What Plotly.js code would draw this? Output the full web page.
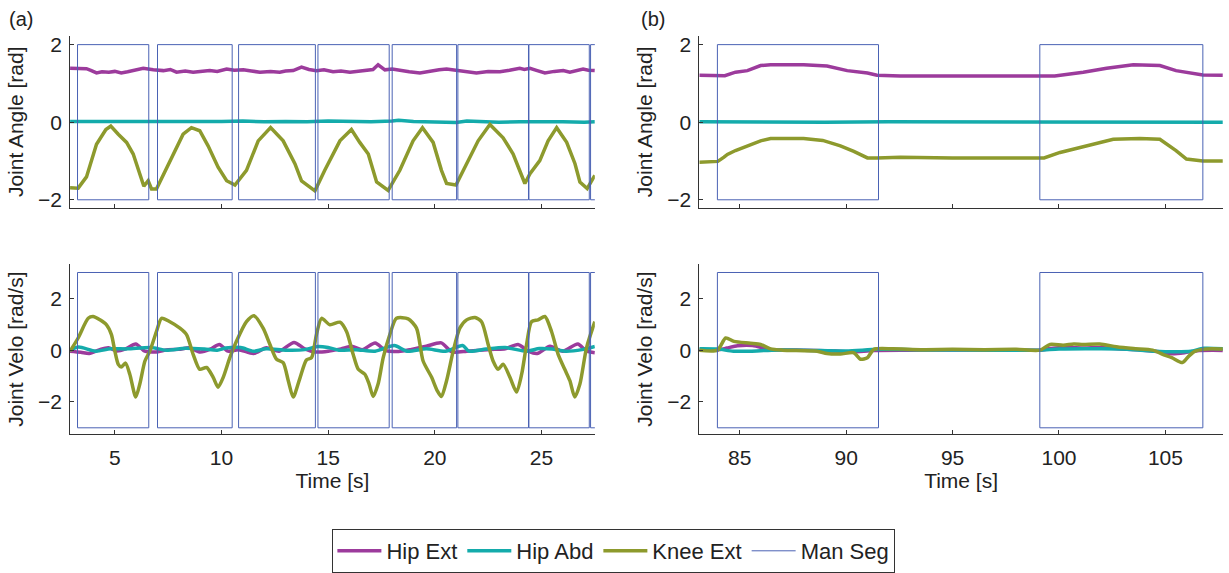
<!DOCTYPE html>
<html>
<head>
<meta charset="utf-8">
<script src="https://cdn.plot.ly/plotly-3.0.1.min.js"></script>
<style>html,body{margin:0;padding:0;background:#fff;}#chart{width:1229px;height:573px;}</style>
</head>
<body>
<div id="chart"></div>
<script>
// ---------- Panel (a): walking, time 2.9 - 27.5 s ----------
const tHipAngA = [2.9, 3.28, 3.67, 3.9, 4.14, 4.4, 4.72, 5.0, 5.3, 5.6, 5.86, 6.1, 6.33, 6.8, 7.27, 7.6, 7.89, 8.3, 8.67, 9.0, 9.45, 9.8, 10.24, 10.6, 11.02, 11.4, 11.8, 12.3, 12.73, 13.0, 13.36, 13.75, 14.1, 14.45, 14.8, 15.23, 15.6, 16.02, 16.4, 16.8, 17.1, 17.34, 17.66, 18.0, 18.36, 18.8, 19.3, 19.6, 19.92, 20.2, 20.55, 20.9, 21.17, 21.6, 21.95, 22.5, 23.05, 23.5, 23.98, 24.2, 24.46, 24.8, 25.16, 25.6, 26.02, 26.33, 26.65, 26.95, 27.2, 27.5];
const hipAngA  = [1.39, 1.38, 1.38, 1.33, 1.27, 1.30, 1.29, 1.31, 1.27, 1.30, 1.33, 1.36, 1.39, 1.35, 1.33, 1.36, 1.29, 1.32, 1.29, 1.31, 1.33, 1.31, 1.37, 1.34, 1.35, 1.32, 1.29, 1.31, 1.29, 1.32, 1.33, 1.42, 1.36, 1.33, 1.35, 1.30, 1.32, 1.29, 1.31, 1.33, 1.36, 1.48, 1.35, 1.37, 1.33, 1.30, 1.27, 1.30, 1.33, 1.35, 1.37, 1.34, 1.33, 1.30, 1.27, 1.31, 1.30, 1.34, 1.39, 1.36, 1.39, 1.33, 1.27, 1.31, 1.33, 1.29, 1.32, 1.37, 1.34, 1.33];

const tAbdAngA = [2.9, 4, 5, 6, 7, 8, 9, 10, 11, 12, 13, 14, 15, 16, 17, 18, 18.3, 19, 20, 21, 21.5, 22, 23, 24, 25, 26, 27, 27.5];
const abdAngA  = [0.02, 0.02, 0.01, 0.0, 0.01, 0.02, 0.01, 0.02, 0.03, 0.01, 0.02, 0.01, 0.03, 0.02, 0.01, 0.03, 0.05, 0.02, 0.01, -0.01, 0.03, 0.02, 0.0, 0.01, 0.02, 0.01, 0.0, 0.01];

const tKneeAngA = [2.9, 3.28, 3.67, 4.14, 4.58, 4.81, 5.16, 5.55, 5.86, 6.17, 6.36, 6.56, 6.72, 6.95, 7.19, 7.73, 8.20, 8.59, 8.98, 9.37, 9.84, 10.24, 10.63, 11.17, 11.72, 12.30, 12.89, 13.44, 13.75, 14.38, 14.84, 15.55, 16.09, 16.48, 16.88, 17.27, 17.81, 18.36, 18.98, 19.42, 19.92, 20.31, 20.55, 20.99, 21.41, 22.03, 22.58, 23.20, 23.67, 24.22, 24.46, 24.92, 25.31, 25.71, 26.18, 26.57, 26.80, 27.14, 27.5];
const kneeAngA  = [-1.69, -1.70, -1.41, -0.57, -0.19, -0.10, -0.31, -0.52, -0.82, -1.33, -1.65, -1.51, -1.72, -1.72, -1.45, -0.82, -0.31, -0.14, -0.22, -0.61, -1.16, -1.51, -1.62, -1.24, -0.48, -0.14, -0.48, -1.07, -1.51, -1.77, -1.24, -0.48, -0.19, -0.52, -0.82, -1.54, -1.76, -1.24, -0.48, -0.14, -0.52, -1.24, -1.58, -1.62, -1.16, -0.48, -0.06, -0.40, -0.82, -1.58, -1.33, -0.99, -0.48, -0.14, -0.52, -1.07, -1.54, -1.71, -1.37];

const tHipVelA = [2.9, 3.4, 3.8, 4.3, 4.7, 5.1, 5.5, 5.98, 6.4, 6.9, 7.5, 8.0, 8.5, 9.0, 9.5, 9.9, 10.3, 10.8, 11.5, 12.1, 12.7, 13.4, 13.9, 14.4, 15.0, 15.6, 16.1, 16.6, 17.2, 17.7, 18.3, 18.9, 19.6, 20.3, 20.8, 21.5, 22.1, 22.8, 23.3, 23.9, 24.4, 24.8, 25.4, 26.0, 26.7, 27.1, 27.5];
const hipVelA  = [-0.04, -0.08, -0.13, 0.02, 0.09, -0.03, 0.05, 0.24, -0.04, -0.07, 0.02, 0.03, 0.09, -0.07, 0.05, 0.22, -0.04, 0.02, -0.13, 0.09, -0.04, 0.30, 0.05, -0.07, -0.04, 0.05, 0.15, 0.02, 0.28, -0.02, -0.05, 0.03, 0.15, 0.28, -0.07, -0.04, 0.0, 0.03, 0.05, 0.22, -0.05, -0.13, 0.15, -0.04, 0.24, -0.03, -0.10];

const tAbdVelA = [2.9, 3.3, 4.1, 4.8, 5.6, 6.7, 7.4, 8.3, 9.2, 9.8, 10.2, 10.9, 11.5, 12.1, 13.0, 13.9, 14.5, 15.0, 15.5, 16.3, 17.2, 18.1, 18.7, 19.6, 20.5, 21.3, 21.6, 22.4, 23.3, 24.3, 24.9, 25.5, 26.1, 26.9, 27.5];
const abdVelA  = [0.0, 0.12, -0.04, 0.05, 0.05, 0.10, 0.0, 0.07, 0.04, 0.0, 0.08, 0.10, -0.04, 0.05, 0.0, 0.02, 0.14, 0.10, 0.0, 0.02, -0.04, 0.18, -0.04, 0.05, -0.04, 0.18, -0.04, 0.04, 0.10, -0.04, 0.06, 0.04, -0.04, 0.02, 0.14];

const tKneeVelA = [2.9, 3.28, 3.75, 3.98, 4.30, 4.61, 4.84, 5.0, 5.16, 5.3, 5.5, 5.70, 5.98, 6.17, 6.41, 6.64, 6.95, 7.19, 7.58, 8.05, 8.36, 8.67, 8.98, 9.30, 9.61, 9.84, 10.08, 10.39, 10.70, 11.17, 11.52, 11.95, 12.27, 12.58, 12.89, 13.13, 13.36, 13.67, 13.98, 14.22, 14.45, 14.69, 15.08, 15.55, 15.86, 16.17, 16.41, 16.72, 16.92, 17.11, 17.34, 17.58, 17.89, 18.20, 18.75, 19.14, 19.45, 19.85, 20.11, 20.31, 20.55, 20.86, 21.17, 21.49, 21.88, 22.19, 22.50, 22.73, 22.97, 23.20, 23.52, 23.83, 24.07, 24.30, 24.53, 24.84, 25.16, 25.47, 25.78, 26.09, 26.33, 26.56, 26.80, 27.11, 27.5];
const kneeVelA  = [-0.04, 0.47, 1.23, 1.30, 1.17, 0.98, 0.60, -0.04, -0.55, -0.65, -0.5, -0.93, -1.81, -1.31, -0.42, -0.04, 0.72, 1.23, 1.10, 0.85, 0.60, -0.16, -0.74, -0.67, -1.05, -1.43, -1.05, -0.29, 0.34, 1.10, 1.33, 0.85, 0.22, -0.35, -0.48, -1.18, -1.81, -1.1, -0.38, -0.29, 0.60, 1.23, 0.98, 1.08, 0.72, -0.16, -0.74, -0.93, -1.31, -1.79, -1.31, -0.29, 0.60, 1.23, 1.21, 0.85, -0.42, -1.05, -1.56, -1.79, -1.18, -0.04, 0.85, 1.17, 1.26, 1.10, 0.22, -0.42, -0.74, -0.54, -1.05, -1.62, -0.93, 0.22, 1.10, 1.17, 1.30, 0.72, -0.16, -0.74, -1.18, -1.81, -1.31, 0.09, 1.10];

const segStartA = [3.25, 7.00, 10.80, 14.52, 18.00, 21.08, 24.41, 27.30];
const segEndA   = [6.59, 10.50, 14.40, 17.86, 21.02, 24.39, 27.24, 30.5];

// ---------- Panel (b): standing, time 83.1 - 107.7 s ----------
const tHipAngB = [83.1, 83.9, 84.3, 84.8, 85.36, 85.98, 86.45, 88.0, 89.1, 90.05, 91.0, 91.45, 92.55, 94, 96, 98, 99.8, 101.14, 102.24, 103.49, 104.74, 105.5, 106.3, 106.76, 107.7];
const hipAngB  = [1.21, 1.21, 1.20, 1.29, 1.33, 1.46, 1.48, 1.48, 1.45, 1.33, 1.27, 1.21, 1.19, 1.19, 1.19, 1.19, 1.19, 1.29, 1.39, 1.48, 1.46, 1.33, 1.25, 1.22, 1.21];

const tAbdAngB = [83.1, 86, 89, 92, 95, 98, 101, 104, 107.7];
const abdAngB  = [0.01, 0.0, 0.0, 0.01, 0.01, 0.0, 0.0, 0.01, 0.0];

const tKneeAngB = [83.1, 83.97, 84.26, 84.42, 84.8, 85.36, 85.98, 86.45, 88.0, 88.9, 89.73, 90.36, 91.0, 91.45, 92.55, 95, 97.5, 99.3, 100.05, 101.3, 102.55, 103.8, 104.74, 105.5, 105.99, 106.76, 107.7];
const kneeAngB  = [-1.03, -1.01, -0.90, -0.83, -0.73, -0.61, -0.48, -0.42, -0.42, -0.47, -0.61, -0.75, -0.92, -0.92, -0.90, -0.92, -0.92, -0.92, -0.78, -0.61, -0.44, -0.42, -0.44, -0.73, -0.95, -1.0, -1.0];

const tHipVelB = [83.1, 83.95, 84.4, 84.9, 85.6, 86.5, 88, 89.5, 90.3, 91.3, 93, 95, 97, 99.1, 99.6, 100.3, 101.2, 101.9, 102.8, 103.8, 104.6, 105.3, 105.9, 106.5, 107.7];
const hipVelB  = [0.0, 0.0, 0.08, 0.17, 0.18, 0.02, 0.0, -0.03, -0.07, -0.01, 0.0, 0.01, 0.0, 0.0, 0.06, 0.10, 0.08, 0.10, 0.05, 0.01, -0.05, -0.14, -0.10, -0.02, -0.01];

const tAbdVelB = [83.1, 83.95, 84.7, 85.5, 86.5, 88, 90, 91.5, 94, 97, 99.1, 100, 102, 103.5, 104.5, 105.5, 106.2, 106.8, 107.7];
const abdVelB  = [0.05, 0.04, -0.04, -0.04, 0.0, 0.0, -0.03, 0.03, 0.01, 0.0, 0.0, 0.04, 0.05, 0.02, -0.04, -0.06, -0.04, 0.07, 0.05];

const tKneeVelB = [83.1, 83.95, 84.34, 84.73, 85.5, 85.98, 86.45, 87.0, 88.64, 89.1, 89.73, 90.36, 90.67, 91.0, 91.3, 92.2, 93.5, 95, 96.5, 98, 99.1, 99.58, 100.2, 100.7, 101.14, 101.92, 102.7, 103.5, 104.4, 104.9, 105.3, 105.8, 106.1, 106.4, 106.76, 107.2, 107.7];
const kneeVelB  = [0.0, 0.0, 0.47, 0.34, 0.27, 0.22, 0.05, 0.0, -0.04, -0.13, -0.15, -0.10, -0.35, -0.29, 0.03, 0.05, 0.02, 0.03, 0.02, 0.03, 0.0, 0.22, 0.19, 0.24, 0.22, 0.24, 0.13, 0.06, 0.0, -0.17, -0.29, -0.48, -0.23, -0.04, 0.03, 0.05, 0.04];

const segStartB = [83.95, 99.1];
const segEndB   = [91.52, 106.76];

// segment box vertical extents (data units)
const segAngLimits = [-2, 2];
const segVelLimits = [-3, 3];

const seriesNames = ["Hip Ext", "Hip Abd", "Knee Ext", "Man Seg"];
const xTicksA = [5, 10, 15, 20, 25];
const xTicksB = [85, 90, 95, 100, 105];
const yTicks = [-2, 0, 2];

// ---------- styling ----------
const C_HIP = "#9c3b9c", C_ABD = "#14abab", C_KNEE = "#8d9a2d", C_SEG = "#4a62b4";
const FONT = "Liberation Sans, Arial, Helvetica, sans-serif";
const TXT = "#222222";

function boxes(starts, ends, lim) {
  const x = [], y = [];
  for (let i = 0; i < starts.length; i++) {
    x.push(starts[i], ends[i], ends[i], starts[i], starts[i], null);
    y.push(lim[0], lim[0], lim[1], lim[1], lim[0], null);
  }
  return {x, y};
}

function line(x, y, color, name, xa, ya, show, w, spline) {
  return {
    type: "scatter", mode: "lines", x, y, name, legendgroup: name, showlegend: show,
    xaxis: xa, yaxis: ya, line: {color, width: w, shape: spline ? "spline" : "linear", smoothing: 0.7},
    hoverinfo: "skip"
  };
}

const traces = [];
function panel(xa, ya, d, seg, lim, first, vel) {
  traces.push(line(d.th, d.vh, C_HIP, seriesNames[0], xa, ya, first, 3.5, vel));
  traces.push(line(d.ta, d.va, C_ABD, seriesNames[1], xa, ya, first, 3.5, vel));
  traces.push(line(d.tk, d.vk, C_KNEE, seriesNames[2], xa, ya, first, 3.5, vel));
  const b = boxes(seg[0], seg[1], lim);
  traces.push(line(b.x, b.y, C_SEG, seriesNames[3], xa, ya, first, 1, false));
}
panel("x", "y", {th: tHipAngA, vh: hipAngA, ta: tAbdAngA, va: abdAngA, tk: tKneeAngA, vk: kneeAngA}, [segStartA, segEndA], segAngLimits, true, false);
panel("x2", "y2", {th: tHipVelA, vh: hipVelA, ta: tAbdVelA, va: abdVelA, tk: tKneeVelA, vk: kneeVelA}, [segStartA, segEndA], segVelLimits, false, true);
panel("x3", "y3", {th: tHipAngB, vh: hipAngB, ta: tAbdAngB, va: abdAngB, tk: tKneeAngB, vk: kneeAngB}, [segStartB, segEndB], segAngLimits, false, false);
panel("x4", "y4", {th: tHipVelB, vh: hipVelB, ta: tAbdVelB, va: abdVelB, tk: tKneeVelB, vk: kneeVelB}, [segStartB, segEndB], segVelLimits, false, true);

const axCommon = {
  showgrid: false, zeroline: false, showline: true, linecolor: "#333", linewidth: 1,
  ticks: "inside", ticklen: 4, tickwidth: 1, tickcolor: "#333", mirror: false,
  tickfont: {family: FONT, size: 21, color: TXT}
};
const domL = [0.057, 0.484], domR = [0.569, 0.995];
const domTop = [0.632, 0.936], domBot = [0.230, 0.532];
function xa(dom, anchor, range, ticks, labels) {
  const o = Object.assign({}, axCommon, {domain: dom, anchor, range, tickvals: ticks, showticklabels: labels, ticklabelstandoff: 5});
  if (labels) o.title = {text: "Time [s]", font: {family: FONT, size: 21, color: TXT}, standoff: 2};
  return o;
}
function ya(dom, anchor, range, title) {
  return Object.assign({}, axCommon, {domain: dom, anchor, range, tickvals: yTicks, ticklabelstandoff: 3,
    title: {text: title, font: {family: FONT, size: 21, color: TXT}, standoff: 8}});
}

const layout = {
  width: 1229, height: 573,
  margin: {l: 0, r: 0, t: 0, b: 0},
  paper_bgcolor: "#fff", plot_bgcolor: "#fff",
  showlegend: true,
  xaxis: xa(domL, "y", [2.9, 27.5], xTicksA, false),
  yaxis: ya(domTop, "x", [-2.2, 2.22], "Joint Angle [rad]"),
  xaxis2: xa(domL, "y2", [2.9, 27.5], xTicksA, true),
  yaxis2: ya(domBot, "x2", [-3.25, 3.33], "Joint Velo [rad/s]"),
  xaxis3: xa(domR, "y3", [83.1, 107.7], xTicksB, false),
  yaxis3: ya(domTop, "x3", [-2.2, 2.22], "Joint Angle [rad]"),
  xaxis4: xa(domR, "y4", [83.1, 107.7], xTicksB, true),
  yaxis4: ya(domBot, "x4", [-3.25, 3.33], "Joint Velo [rad/s]"),
  legend: {
    orientation: "h", x: 0.4995, xanchor: "center", y: 0.062, yanchor: "top",
    bordercolor: "#333", borderwidth: 1, bgcolor: "#fff",
    font: {family: FONT, size: 22, color: TXT}, itemwidth: 44, tracegroupgap: 0
  },
  annotations: [
    {text: "(a)", xref: "paper", yref: "paper", x: 7 / 1229, y: 1 - 19 / 573, xanchor: "left", yanchor: "middle", showarrow: false, font: {family: FONT, size: 20, color: TXT}},
    {text: "(b)", xref: "paper", yref: "paper", x: 639 / 1229, y: 1 - 19 / 573, xanchor: "left", yanchor: "middle", showarrow: false, font: {family: FONT, size: 20, color: TXT}}
  ]
};

Plotly.newPlot("chart", traces, layout, {displayModeBar: false, staticPlot: true});
</script>
</body>
</html>
